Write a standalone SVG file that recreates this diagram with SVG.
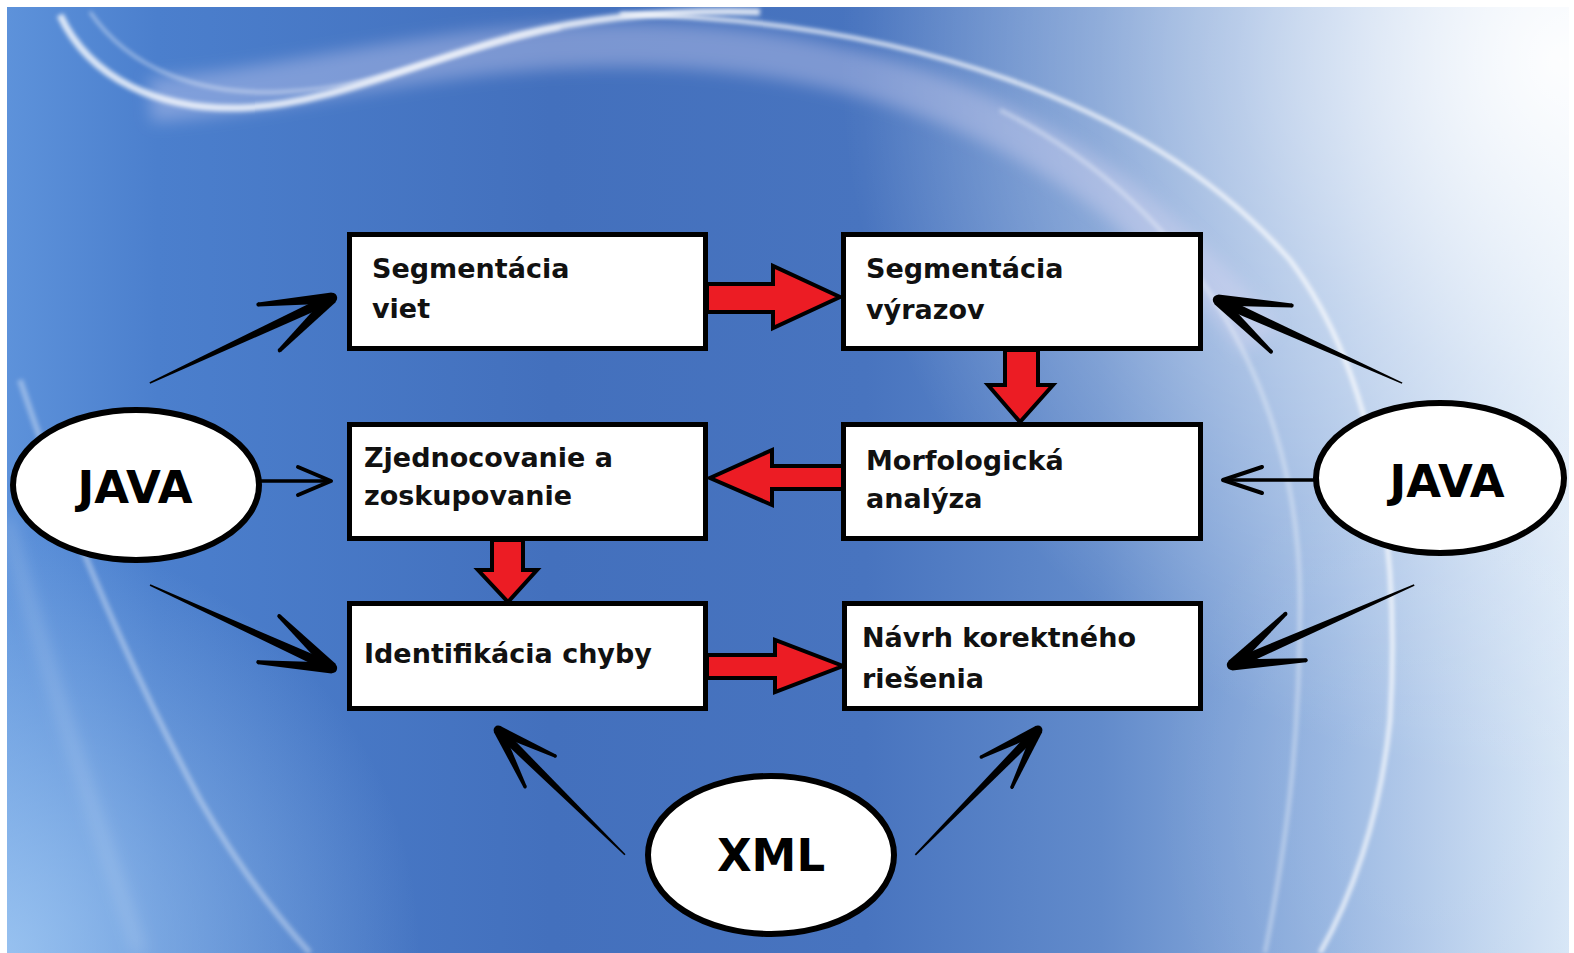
<svg xmlns="http://www.w3.org/2000/svg" xmlns:xlink="http://www.w3.org/1999/xlink" width="1574" height="953" viewBox="0 0 1574 953">
<defs>
<linearGradient id="bgH" x1="0" y1="0" x2="1574" y2="0" gradientUnits="userSpaceOnUse">
<stop offset="0" stop-color="#5e93db"/>
<stop offset="0.1" stop-color="#4b7fcd"/>
<stop offset="0.35" stop-color="#4370bd"/>
<stop offset="0.55" stop-color="#4874bf"/>
<stop offset="0.7" stop-color="#628bcb"/>
<stop offset="0.85" stop-color="#96b5e1"/>
<stop offset="1" stop-color="#d5e5f6"/>
</linearGradient>
<radialGradient id="glowTR" cx="1560" cy="60" r="720" gradientUnits="userSpaceOnUse">
<stop offset="0" stop-color="#ffffff" stop-opacity="0.95"/>
<stop offset="0.45" stop-color="#ffffff" stop-opacity="0.45"/>
<stop offset="1" stop-color="#ffffff" stop-opacity="0"/>
</radialGradient>
<radialGradient id="glowBL" cx="0" cy="953" r="420" gradientUnits="userSpaceOnUse">
<stop offset="0" stop-color="#a6cdf5" stop-opacity="0.8"/>
<stop offset="1" stop-color="#a6cdf5" stop-opacity="0"/>
</radialGradient>
<radialGradient id="glowBR" cx="1574" cy="800" r="420" gradientUnits="userSpaceOnUse">
<stop offset="0" stop-color="#ffffff" stop-opacity="0.15"/>
<stop offset="1" stop-color="#ffffff" stop-opacity="0"/>
</radialGradient>
<filter id="blur2" x="-20%" y="-20%" width="140%" height="140%"><feGaussianBlur stdDeviation="2"/></filter>
<filter id="blur8" x="-20%" y="-20%" width="140%" height="140%"><feGaussianBlur stdDeviation="8"/></filter>
<g id="head">
<circle cx="0" cy="0" r="5.2"/>
<polygon points="1.88,-5.17 -68.82,-27.18 -70.18,-23.42 -1.88,5.17"/>
<polygon points="1.88,5.17 -68.82,27.18 -70.18,23.42 -1.88,-5.17"/>
<circle cx="-69.5" cy="-25.3" r="2"/>
<circle cx="-69.5" cy="25.3" r="2"/>
</g>
<style>
.box{fill:#ffffff;stroke:#000000;stroke-width:5}
.ell{fill:#ffffff;stroke:#000000;stroke-width:6}
.lbl{font-family:"DejaVu Sans",Verdana,sans-serif;font-weight:bold;font-size:27px;fill:#111111}
.big{font-family:"DejaVu Sans",Verdana,sans-serif;font-weight:bold;font-size:45px;fill:#000000;text-anchor:middle}
.red{fill:#ec1c24;stroke:#000000;stroke-width:4;stroke-linejoin:miter}
.blk{fill:#000000}
.thin{stroke:#000000;stroke-width:3.5;fill:none;stroke-linecap:round;stroke-linejoin:round}
</style>
</defs>

<g id="background">
<rect x="0" y="0" width="1574" height="953" fill="#ffffff"/>
<rect x="7" y="7" width="1562" height="946" fill="url(#bgH)"/>
<rect x="7" y="7" width="1562" height="946" fill="url(#glowTR)"/>
<rect x="7" y="7" width="1562" height="946" fill="url(#glowBL)"/>
<rect x="7" y="7" width="1562" height="946" fill="url(#glowBR)"/>
<path d="M150 100 C300 90 450 40 650 45 C850 50 1000 110 1120 200 C1180 250 1230 300 1260 340" fill="none" stroke="#e2def5" stroke-width="44" stroke-opacity="0.35" filter="url(#blur8)"/>
<path d="M60 15 C90 80 160 110 240 108 C330 105 420 60 520 35 C600 15 680 10 760 12" fill="none" stroke="#ffffff" stroke-width="7" stroke-opacity="0.8" filter="url(#blur2)"/>
<path d="M90 12 C130 70 200 95 280 92 C380 88 450 50 560 28" fill="none" stroke="#ffffff" stroke-width="3" stroke-opacity="0.5" filter="url(#blur2)"/>
<path d="M620 14 C900 20 1150 100 1290 260 C1380 380 1400 560 1390 720 C1380 820 1350 900 1320 953" fill="none" stroke="#ffffff" stroke-width="4" stroke-opacity="0.85" filter="url(#blur2)"/>
<path d="M1000 110 C1200 210 1300 400 1300 600 C1300 750 1285 850 1265 953" fill="none" stroke="#ffffff" stroke-width="4" stroke-opacity="0.4" filter="url(#blur2)"/>
<path d="M20 380 C60 500 120 650 200 800 C240 870 280 920 310 953" fill="none" stroke="#ffffff" stroke-width="6" stroke-opacity="0.35" filter="url(#blur2)"/>
<path d="M7 520 C40 650 90 800 140 953" fill="none" stroke="#ffffff" stroke-width="10" stroke-opacity="0.2" filter="url(#blur8)"/>
</g>

<g id="connectors">
<polygon class="red" points="707,284 773,284 773,266 840,297 773,328 773,312 707,312"/>
<polygon class="red" points="1005,350 1038,350 1038,385 1053,385 1020,422 988,385 1005,385"/>
<polygon class="red" points="843,466 772,466 772,450 710,478 772,505 772,489 843,489"/>
<polygon class="red" points="492,540 523,540 523,570 537,570 508,602 478,570 492,570"/>
<polygon class="red" points="707,655 775,655 775,640 843,666 775,692 775,678 707,678"/>

<g class="blk" transform="translate(332,298) rotate(-25)">
<polygon points="-201,-0.8 -4,-5 -4,5 -201,0.8"/><use xlink:href="#head"/>
</g>
<g class="blk" transform="translate(332,668) rotate(24.5)">
<polygon points="-200,-0.8 -4,-5 -4,5 -200,0.8"/><use xlink:href="#head"/>
</g>
<g class="blk" transform="translate(1218,300) rotate(-155.7)">
<polygon points="-202,-0.8 -4,-5 -4,5 -202,0.8"/><use xlink:href="#head"/>
</g>
<g class="blk" transform="translate(1232,665) rotate(156.3)">
<polygon points="-199,-0.8 -4,-5 -4,5 -199,0.8"/><use xlink:href="#head"/>
</g>
<g class="blk" transform="translate(498,730) rotate(-135.5)">
<polygon points="-178,-0.8 -4,-4.6 -4,4.6 -178,0.8"/><use xlink:href="#head" transform="scale(0.85)"/>
</g>
<g class="blk" transform="translate(1038,730) rotate(-45.5)">
<polygon points="-175,-0.8 -4,-4.6 -4,4.6 -175,0.8"/><use xlink:href="#head" transform="scale(0.85)"/>
</g>

<line class="thin" x1="260" y1="481" x2="329" y2="481"/>
<polyline class="thin" points="298,467 331,481 298,495" style="stroke-width:4"/>
<line class="thin" x1="1316" y1="480" x2="1226" y2="480"/>
<polyline class="thin" points="1262,467 1223,480 1262,493" style="stroke-width:4"/>
</g>

<g id="node-segmentacia-viet">
<rect class="box" x="349.5" y="234.5" width="356" height="114"/>
<text class="lbl" x="372" y="278">Segmentácia</text>
<text class="lbl" x="372" y="318">viet</text>
</g>
<g id="node-segmentacia-vyrazov">
<rect class="box" x="843.5" y="234.5" width="357" height="114"/>
<text class="lbl" x="866" y="278">Segmentácia</text>
<text class="lbl" x="866" y="319">výrazov</text>
</g>
<g id="node-zjednocovanie">
<rect class="box" x="349.5" y="424.5" width="356" height="114"/>
<text class="lbl" x="364" y="467">Zjednocovanie a</text>
<text class="lbl" x="364" y="505">zoskupovanie</text>
</g>
<g id="node-morfologicka">
<rect class="box" x="843.5" y="424.5" width="357" height="114"/>
<text class="lbl" x="866" y="470">Morfologická</text>
<text class="lbl" x="866" y="508">analýza</text>
</g>
<g id="node-identifikacia">
<rect class="box" x="349.5" y="603.5" width="356" height="105"/>
<text class="lbl" x="364" y="663">Identifikácia chyby</text>
</g>
<g id="node-navrh">
<rect class="box" x="844.5" y="603.5" width="356" height="105"/>
<text class="lbl" x="862" y="647">Návrh korektného</text>
<text class="lbl" x="862" y="688">riešenia</text>
</g>
<g id="node-java-left">
<ellipse class="ell" cx="136" cy="485" rx="123" ry="75"/>
<text class="big" x="135" y="503">JAVA</text>
</g>
<g id="node-java-right">
<ellipse class="ell" cx="1440" cy="478" rx="124" ry="75"/>
<text class="big" x="1447" y="497">JAVA</text>
</g>
<g id="node-xml">
<ellipse class="ell" cx="771" cy="855" rx="123" ry="79"/>
<text class="big" x="771" y="871">XML</text>
</g>
</svg>
